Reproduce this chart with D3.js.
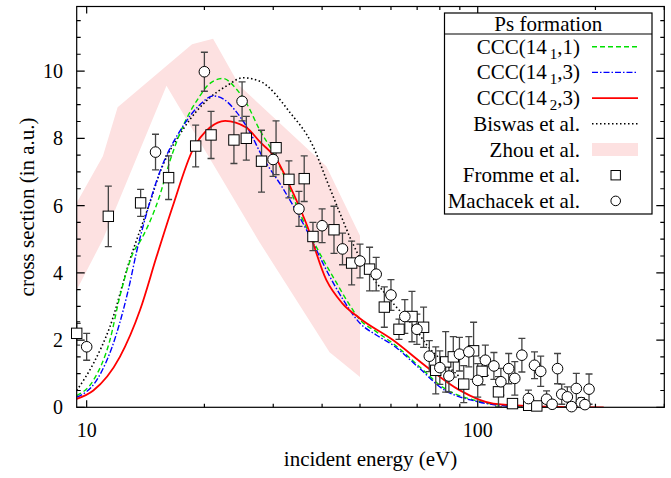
<!DOCTYPE html>
<html>
<head>
<meta charset="utf-8">
<script src="https://cdn.jsdelivr.net/npm/d3@7"></script>
<style>
body { margin: 0; background: #fff; }
svg { display: block; font-family: "Liberation Serif", "Times New Roman", serif; }
</style>
</head>
<body>
<svg id="chart" width="671" height="478"></svg>
<script>
// ---- data ----
var ccc11 = [[9.43,0.35],[10.4,0.8],[11.47,2.0],[12.16,3.3],[13.15,4.6],[13.8,5.0],[15.38,6.3],[16.3,7.3],[17.65,8.37],[19.48,9.26],[20.5,9.6],[22.3,9.78],[24,9.5],[25.6,9.05],[27.7,8.25],[30,7.57],[33.1,6.48],[35.7,5.58],[39.4,4.59],[43.1,3.79],[47,3.05],[50,2.6],[55,2.25],[60.7,1.9],[71.1,1.2],[81.3,0.6],[98.9,0.2],[115,0.06],[130,0.01]];
var ccc13 = [[9.43,0.3],[10.6,0.8],[11.93,2.2],[12.9,3.7],[13.4,4.6],[13.95,5.4],[15.38,7.0],[17.65,8.37],[19.48,9.0],[21.05,9.26],[22.5,9.15],[24.2,8.77],[26.1,8.2],[28,7.5],[31.8,6.5],[36.4,5.3],[41.8,3.9],[45,3.25],[50,2.5],[55,2.15],[60.7,1.85],[71.1,1.15],[81.3,0.55],[98.9,0.18],[115,0.05],[130,0.01]];
var ccc23 = [[9.43,0.25],[10.4,0.5],[12.16,1.5],[13.7,2.9],[15.1,4.49],[16.6,5.98],[18.7,7.67],[20.66,8.32],[22.6,8.52],[25.6,8.32],[27.7,7.9],[30.6,7.37],[33.1,6.58],[36.4,5.48],[41,3.79],[45,3.1],[49.9,2.65],[60.7,2.0],[74.1,1.2],[89.8,0.51],[109.6,0.11],[150,0.02],[210,0]];
var biswas = [[9.43,0.5],[10.4,1.3],[11.47,2.4],[12.9,4.39],[14.5,6.08],[15.38,6.97],[17.65,8.27],[20.66,9.21],[22.8,9.56],[25.1,9.8],[27.7,9.7],[33.1,8.77],[37.9,7.77],[41,6.78],[44.4,5.78],[48,4.85],[52,4.1],[56,3.6],[60.7,3.1],[69.7,2.3],[74.1,1.85],[80,1.45],[90,0.9]];
var zhouUpper = [[9.43,6.08],[11,7.47],[12,8.92],[18.6,10.8],[21.05,10.96],[24.6,9.56],[41,7.17],[50,5.1]];
var zhouLower = [[9.43,3.49],[11,4.99],[16,9.56],[27.7,4.9],[41.8,1.64],[50,0.9]];

var frommeE   = [9.43,11.36,13.74,16.2,19.0,20.8,23.8,25.6,28.0,30.5,32.9,36.0,37.9,42.9,47.6,52.9,57.7,62.9,67.9,72.7,78.1,82.8,86.6,92.1,97.6,102.6,113,122.7,135,141.6];
var frommeV   = [2.2,5.68,6.08,6.83,7.77,8.1,7.95,8.0,7.32,7.72,6.78,6.8,5.08,5.28,4.29,4.11,2.98,2.32,2.7,2.38,1.1,1.35,1.5,0.69,1.68,1.07,0.46,0.11,0.06,0.04];
var frommeErr = [0.35,0.9,0.4,0.65,0.62,0.7,0.7,0.65,0.92,0.8,0.55,0.68,0.42,0.7,0.65,0.65,0.6,0.3,0.75,0.6,0.7,0.9,0.6,0.55,0.85,0.4,0.45,0.1,0.05,0.05];

var machE   = [10,15,20,24.97,29.97,34.9,40,45.1,50,55,60,65.1,69.9,75.2,80,84.4,89.8,94.9,100,104.6,110,114.6,120,124.4,129.7,134.8,139.7,144.9,150,155,160,164,169.5,173.8,178.7,184,188,192.6];
var machV   = [1.8,7.59,9.98,9.1,7.37,5.9,5.4,4.71,4.35,3.96,3.34,2.7,2.32,1.52,1.18,0.93,1.58,1.65,0.8,1.4,1.23,0.76,1.15,0.86,1.55,0.26,1.25,1.07,0.24,0.09,1.15,0.39,0.31,0.02,0.56,0.14,0.08,0.54];
var machErr = [0.4,0.53,0.58,0.58,0.5,0.52,0.5,0.47,0.5,0.5,0.46,0.5,0.45,0.46,0.5,0.48,0.5,0.45,0.5,0.45,0.4,0.4,0.45,0.5,0.5,0.25,0.4,0.45,0.25,0.1,0.45,0.3,0.3,0.05,0.45,0.15,0.1,0.45];

var xMajor = [10, 100];
var xMinor = [20,30,40,50,60,70,80,90,200,300];
var yMajor = [0,2,4,6,8,10];
var yMinor = d3.range(0, 12, 0.5).filter(function (v) { return yMajor.indexOf(v) < 0; });

(function () {
	// ---- layout ----
	var svg = d3.select("#chart");
	var pL = 76.7, pR = 664.3, pT = 6.5, pB = 407.3;
	var x = d3.scaleLog().domain([9.43, 300]).range([pL, pR]);
	var y = d3.scaleLinear().domain([0, 11.92]).range([pB, pT]);

	svg.append("clipPath").attr("id", "clip")
		.append("rect").attr("x", pL).attr("y", pT).attr("width", pR - pL).attr("height", pB - pT);

	var plot = svg.append("g").attr("clip-path", "url(#clip)");

	// Zhou band
	var band = zhouUpper.concat(zhouLower.slice().reverse());
	plot.append("path")
		.attr("d", d3.line().x(function (d) { return x(d[0]); }).y(function (d) { return y(d[1]); })(band) + "Z")
		.attr("fill", "#fde1e1")
		.attr("stroke", "none");

	var line = d3.line()
		.x(function (d) { return x(d[0]); })
		.y(function (d) { return y(d[1]); })
		.curve(d3.curveMonotoneX);

	var curves = [
		{ data: biswas, color: "#000", dash: "1.5,2.5", width: 1.6 },
		{ data: ccc11, color: "#00e000", dash: "5,3", width: 1.4 },
		{ data: ccc13, color: "#0000ff", dash: "6,2,1.5,2", width: 1.4 },
		{ data: ccc23, color: "#ff0000", dash: null, width: 1.8 }
	];
	curves.forEach(function (c) {
		plot.append("path")
			.attr("d", line(c.data))
			.attr("fill", "none")
			.attr("stroke", c.color)
			.attr("stroke-width", c.width)
			.attr("stroke-dasharray", c.dash);
	});

	// error bars (clipped) + markers (not clipped, like gnuplot)
	var markers = svg.append("g");
	function drawPoints(E, V, Err, shape) {
		var g = plot.append("g");
		E.forEach(function (e, i) {
			var px = x(e), y1 = y(V[i] - Err[i]), y2 = y(V[i] + Err[i]);
			g.append("path")
				.attr("d", "M" + px + "," + y1 + "V" + y2 + "M" + (px - 3.5) + "," + y1 + "h7M" + (px - 3.5) + "," + y2 + "h7")
				.attr("stroke", "#444").attr("stroke-width", 1.3).attr("fill", "none");
		});
		E.forEach(function (e, i) {
			var px = x(e), py = y(V[i]);
			if (shape === "square") {
				markers.append("rect").attr("x", px - 5.2).attr("y", py - 5.2).attr("width", 10.4).attr("height", 10.4)
					.attr("fill", "#fff").attr("stroke", "#000").attr("stroke-width", 1);
			} else {
				markers.append("circle").attr("cx", px).attr("cy", py).attr("r", 5.3)
					.attr("fill", "#fff").attr("stroke", "#000").attr("stroke-width", 1);
			}
		});
	}
	drawPoints(frommeE, frommeV, frommeErr, "square");
	drawPoints(machE, machV, machErr, "circle");

	// frame and ticks
	var axes = svg.insert("g", function () { return markers.node(); })
		.attr("stroke", "#000").attr("stroke-width", 1.2).attr("fill", "none");
	axes.append("rect").attr("x", pL).attr("y", pT).attr("width", pR - pL).attr("height", pB - pT);
	function xTicks(vals, len) {
		vals.forEach(function (v) {
			var px = x(v);
			axes.append("path").attr("d", "M" + px + "," + pB + "v" + (-len) + "M" + px + "," + pT + "v" + len);
		});
	}
	function yTicks(vals, len) {
		vals.forEach(function (v) {
			var py = y(v);
			axes.append("path").attr("d", "M" + pL + "," + py + "h" + len + "M" + pR + "," + py + "h" + (-len));
		});
	}
	xTicks(xMajor, 7); xTicks(xMinor, 3.5);
	yTicks(yMajor, 8); yTicks(yMinor, 4);

	svg.append("g").selectAll("text").data(xMajor).enter().append("text")
		.attr("x", function (d) { return x(d); }).attr("y", 437)
		.attr("text-anchor", "middle").attr("font-size", 20).text(function (d) { return d; });
	svg.append("g").selectAll("text").data(yMajor).enter().append("text")
		.attr("x", 63).attr("y", function (d) { return y(d) + 7; })
		.attr("text-anchor", "end").attr("font-size", 20).text(function (d) { return d; });

	svg.append("text").attr("x", (pL + pR) / 2).attr("y", 466)
		.attr("text-anchor", "middle").attr("font-size", 21).text("incident energy (eV)");
	svg.append("text").attr("transform", "translate(34," + ((pT + pB) / 2) + ") rotate(-90)")
		.attr("text-anchor", "middle").attr("font-size", 21).text("cross section (in a.u.)");

	// legend
	var lgL = 444.5, lgR = 652, lgT = 13, lgSep = 34, lgB = 214;
	var lg = svg.append("g");
	lg.append("rect").attr("x", lgL).attr("y", lgT).attr("width", lgR - lgL).attr("height", lgB - lgT)
		.attr("fill", "#fff").attr("stroke", "#000").attr("stroke-width", 1.2);
	lg.append("line").attr("x1", lgL).attr("x2", lgR).attr("y1", lgSep).attr("y2", lgSep)
		.attr("stroke", "#000").attr("stroke-width", 1.2);
	lg.append("text").attr("x", (lgL + lgR) / 2).attr("y", 31).attr("text-anchor", "middle")
		.attr("font-size", 21).text("Ps formation");

	var entries = [
		{ main: "CCC(14", sub: "1", rest: ",1)", type: "line", color: "#00e000", dash: "5,3", width: 1.4 },
		{ main: "CCC(14", sub: "1", rest: ",3)", type: "line", color: "#0000ff", dash: "6,2,1.5,2", width: 1.4 },
		{ main: "CCC(14", sub: "2", rest: ",3)", type: "line", color: "#ff0000", dash: null, width: 1.8 },
		{ main: "Biswas et al.", type: "line", color: "#000", dash: "1.5,2.5", width: 1.6 },
		{ main: "Zhou et al.", type: "band" },
		{ main: "Fromme et al.", type: "square" },
		{ main: "Machacek et al.", type: "circle" }
	];
	entries.forEach(function (e, i) {
		var cy = 46.7 + i * 25.7;
		var t = lg.append("text").attr("x", 580).attr("y", cy + 7).attr("text-anchor", "end").attr("font-size", 21);
		t.append("tspan").text(e.main);
		if (e.sub) {
			t.append("tspan").attr("dx", 3).attr("dy", 5).attr("font-size", 15).text(e.sub);
			t.append("tspan").attr("dy", -5).text(e.rest);
		}
		if (e.type === "line") {
			lg.append("line").attr("x1", 592).attr("x2", 638).attr("y1", cy).attr("y2", cy)
				.attr("stroke", e.color).attr("stroke-width", e.width).attr("stroke-dasharray", e.dash);
		} else if (e.type === "band") {
			lg.append("rect").attr("x", 592).attr("y", cy - 6.5).attr("width", 46).attr("height", 13).attr("fill", "#fde1e1");
		} else if (e.type === "square") {
			lg.append("rect").attr("x", 611).attr("y", cy - 4.7).attr("width", 9.4).attr("height", 9.4)
				.attr("fill", "#fff").attr("stroke", "#000");
		} else {
			lg.append("circle").attr("cx", 615.7).attr("cy", cy).attr("r", 4.8).attr("fill", "#fff").attr("stroke", "#000");
		}
	});
})();
</script>
</body>
</html>
